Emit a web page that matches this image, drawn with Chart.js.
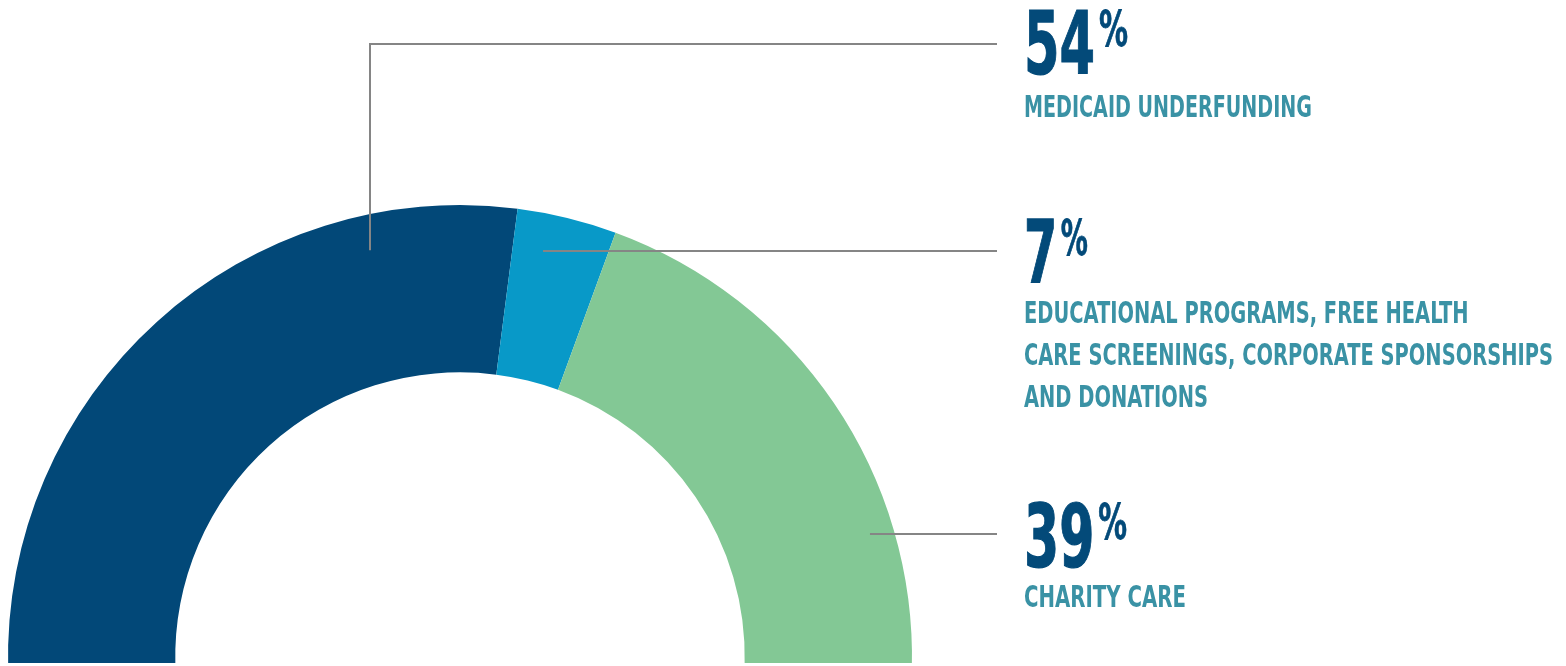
<!DOCTYPE html>
<html>
<head>
<meta charset="utf-8">
<script src="https://cdn.jsdelivr.net/npm/chart.js@4.4.1/dist/chart.umd.min.js"></script>
<style>
    html, body { margin: 0; padding: 0; background: #fff; width: 1566px; height: 666px; overflow: hidden; }
    #wrap { position: relative; width: 1566px; height: 666px; }
    #crop { position: absolute; left: 0; top: 0; width: 1566px; height: 663px; overflow: hidden; }
    #halfDonut { position: absolute; left: 0; top: 0; }
    .callout { position: absolute; left: 1024px; font-family: "DejaVu Sans Condensed", "DejaVu Sans", sans-serif; font-weight: bold; }
    .num { display: inline-block; white-space: nowrap; color: #034a79; -webkit-text-stroke: 1.2px #034a79; font-size: 88px; line-height: 88px; transform-origin: 0 0; }
    .num .pct { display: inline-block; font-size: 50px; line-height: 50px; vertical-align: top; position: relative; top: 4px; margin-left: 6px; -webkit-text-stroke: 0.8px #034a79; }
    .txt { display: inline-block; white-space: pre; color: #3a92a5; font-size: 30px; line-height: 42px; transform-origin: 0 0; }
</style>
</head>
<body>
<div id="wrap">
    <div id="crop"><canvas id="halfDonut" width="1566" height="669"></canvas></div>
</div>
<script>
// data
const categories = [
    'MEDICAID UNDERFUNDING',
    'EDUCATIONAL PROGRAMS, FREE HEALTH\nCARE SCREENINGS, CORPORATE SPONSORSHIPS\nAND DONATIONS',
    'CHARITY CARE'
];
const shares = [54, 7, 39];
const sliceColors = ['#024878', '#0899c8', '#83c895'];

// callout layout (where the text sits, where the leader line hooks into the slice)
const callouts = [
    { numTop: 0,   numWidth: 104, txtTop: 85.5,  txtWidth: 288, lineY: 44,  elbow: true, along: 0.8, radius: 0.922 },
    { numTop: 209, numWidth: 64,  txtTop: 291.5, txtWidth: 529, lineY: 251, radius: 0.917 },
    { numTop: 493, numWidth: 103, txtTop: 575.5, txtWidth: 162, lineY: 534, radius: 0.947 }
];
const lineEndX = 997;

// the ring runs a little under its centre and is cut flat by the crop box
const ROTATION = -91.5;
const CIRCUMFERENCE = 183;

const leaderLines = {
    id: 'leaderLines',
    afterDatasetsDraw(chart) {
        const arcs = chart.getDatasetMeta(0).data;
        const c = chart.ctx;
        c.save();
        c.strokeStyle = '#858585';
        c.lineWidth = 2;
        callouts.forEach((co, i) => {
            const p = arcs[i].getProps(['x', 'y', 'startAngle', 'endAngle', 'outerRadius'], true);
            const r = p.outerRadius * co.radius;
            c.beginPath();
            if (co.elbow) {
                const a = p.startAngle + (p.endAngle - p.startAngle) * co.along;
                const ax = Math.round(p.x + r * Math.cos(a));
                const ay = p.y + r * Math.sin(a);
                c.moveTo(ax, ay);
                c.lineTo(ax, co.lineY);
                c.lineTo(lineEndX, co.lineY);
            } else {
                const dy = co.lineY - p.y;
                const ax = p.x + Math.sqrt(r * r - dy * dy);
                c.moveTo(ax, co.lineY);
                c.lineTo(lineEndX, co.lineY);
            }
            c.stroke();
        });
        c.restore();
    }
};

function addCallouts() {
    const wrap = document.getElementById('wrap');
    callouts.forEach((co, i) => {
        const numBox = document.createElement('div');
        numBox.className = 'callout';
        numBox.style.top = co.numTop + 'px';
        numBox.innerHTML = `<span class="num">${shares[i]}<span class="pct">%</span></span>`;
        wrap.appendChild(numBox);

        const txtBox = document.createElement('div');
        txtBox.className = 'callout';
        txtBox.style.top = co.txtTop + 'px';
        const span = document.createElement('span');
        span.className = 'txt';
        span.textContent = categories[i];
        txtBox.appendChild(span);
        wrap.appendChild(txtBox);

        // squeeze to the condensed width of the original type
        const num = numBox.firstChild;
        num.style.transform = `scaleX(${co.numWidth / num.getBoundingClientRect().width})`;
        span.style.transform = `scaleX(${co.txtWidth / span.getBoundingClientRect().width})`;
    });
}

document.addEventListener('DOMContentLoaded', () => {
    new Chart(document.getElementById('halfDonut'), {
        type: 'doughnut',
        data: {
            labels: categories,
            datasets: [{
                data: shares,
                backgroundColor: sliceColors,
                borderWidth: 0,
                hoverOffset: 0,
                offset: 0
            }]
        },
        options: {
            responsive: false,
            animation: false,
            events: [],
            rotation: ROTATION,
            circumference: CIRCUMFERENCE,
            cutout: '63%',
            layout: { padding: { left: 8, right: 654, top: 205, bottom: 0 } },
            plugins: {
                legend: { display: false },
                tooltip: { enabled: false }
            }
        },
        plugins: [leaderLines]
    });
    addCallouts();
});
</script>
</body>
</html>
